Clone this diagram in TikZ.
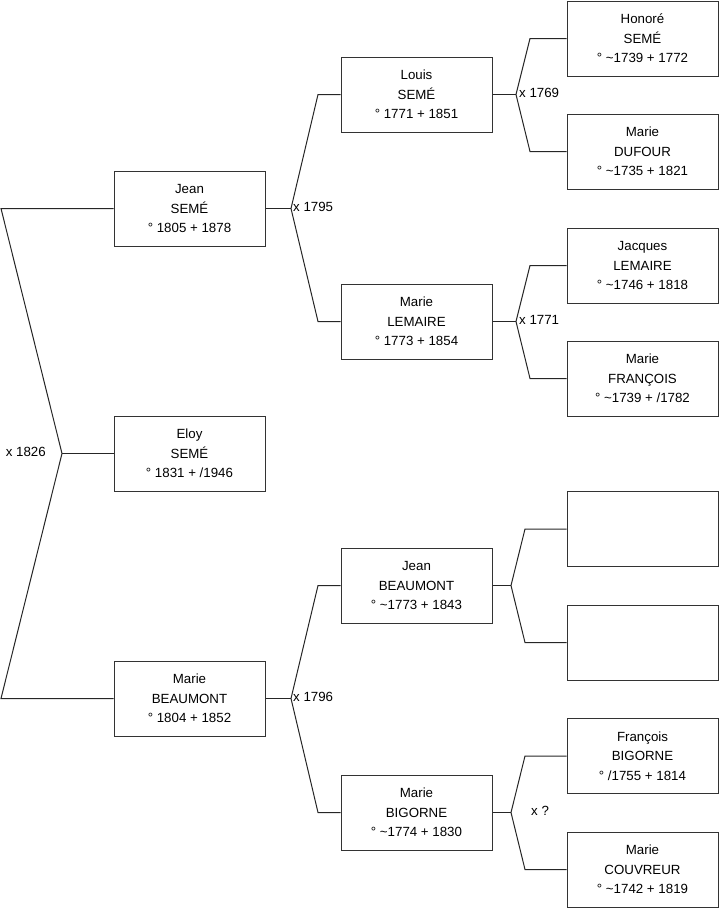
\documentclass[tikz,border=0pt]{standalone}
\usepackage{fontspec}
\setmainfont{Liberation Sans}
\begin{document}
\begin{tikzpicture}[x=1pt,y=-1pt,
  person/.style={draw=black!80, line width=1pt, minimum width=151pt, minimum height=75pt,
    inner sep=0pt, align=center, font=\fontsize{13.3}{19.5}\selectfont},
  link/.style={draw=black!85, line width=1pt},
  mlabel/.style={inner sep=0pt, font=\fontsize{13.3}{16}\selectfont}]
\useasboundingbox (0,0) rectangle (719,908);
% column 1
\node[person] (jean) at (189.5,208.5) {Jean\\SEMÉ\\° 1805 + 1878};
\node[person] (eloy) at (189.5,453.5) {Eloy\\SEMÉ\\° 1831 + /1946};
\node[person] (mbeau) at (189.5,698.5) {Marie\\BEAUMONT\\° 1804 + 1852};
% column 2
\node[person] (louis) at (416.5,94.5) {Louis\\SEMÉ\\° 1771 + 1851};
\node[person] (mlem) at (416.5,321.5) {Marie\\LEMAIRE\\° 1773 + 1854};
\node[person] (jbeau) at (416.5,585.5) {Jean\\BEAUMONT\\° \textasciitilde1773 + 1843};
\node[person] (mbig) at (416.5,812.5) {Marie\\BIGORNE\\° \textasciitilde1774 + 1830};
% column 3
\node[person] (honore) at (642.5,38.5) {Honoré\\SEMÉ\\° \textasciitilde1739 + 1772};
\node[person] (mduf) at (642.5,151.5) {Marie\\DUFOUR\\° \textasciitilde1735 + 1821};
\node[person] (jacq) at (642.5,265.5) {Jacques\\LEMAIRE\\° \textasciitilde1746 + 1818};
\node[person] (mfra) at (642.5,378.5) {Marie\\FRANÇOIS\\° \textasciitilde1739 + /1782};
\node[person] (e1) at (642.5,529) {};
\node[person] (e2) at (642.5,642.5) {};
\node[person] (fbig) at (642.5,756) {François\\BIGORNE\\° /1755 + 1814};
\node[person] (mcou) at (642.5,869.5) {Marie\\COUVREUR\\° \textasciitilde1742 + 1819};
% level 1
\coordinate (t1) at (62,453.5);
\coordinate (t1a) at (1,208.5);
\coordinate (t1b) at (1,698.5);
\draw[link] (jean.west) -- (t1a) -- (t1) -- (t1b) -- (mbeau.west);
\draw[link] (t1) -- (eloy.west);
\node[mlabel, anchor=east] (l1) at (46,452) {x 1826};
% level 2 upper
\coordinate (t2) at (291,208.5);
\coordinate (t2a) at (318,94.5);
\coordinate (t2b) at (318,321.5);
\draw[link] (jean.east) -- (t2);
\draw[link] (louis.west) -- (t2a) -- (t2) -- (t2b) -- (mlem.west);
\node[mlabel, anchor=west] (l2) at (293,207) {x 1795};
% level 2 lower
\coordinate (t3) at (291,698.5);
\coordinate (t3a) at (318,585.5);
\coordinate (t3b) at (318,812.5);
\draw[link] (mbeau.east) -- (t3);
\draw[link] (jbeau.west) -- (t3a) -- (t3) -- (t3b) -- (mbig.west);
\node[mlabel, anchor=west] (l3) at (293,697) {x 1796};
% level 3
\coordinate (t4) at (516,94.5);
\coordinate (t4a) at (530,38.5);
\coordinate (t4b) at (530,151.5);
\draw[link] (louis.east) -- (t4);
\draw[link] (honore.west) -- (t4a) -- (t4) -- (t4b) -- (mduf.west);
\node[mlabel, anchor=west] (l4) at (519,93) {x 1769};
\coordinate (t5) at (516,321.5);
\coordinate (t5a) at (530,265.5);
\coordinate (t5b) at (530,378.5);
\draw[link] (mlem.east) -- (t5);
\draw[link] (jacq.west) -- (t5a) -- (t5) -- (t5b) -- (mfra.west);
\node[mlabel, anchor=west] (l5) at (519,320) {x 1771};
\coordinate (t6) at (511,585.5);
\coordinate (t6a) at (525,529);
\coordinate (t6b) at (525,642.5);
\draw[link] (jbeau.east) -- (t6);
\draw[link] (e1.west) -- (t6a) -- (t6) -- (t6b) -- (e2.west);
\coordinate (t7) at (511,812.5);
\coordinate (t7a) at (525,756);
\coordinate (t7b) at (525,869.5);
\draw[link] (mbig.east) -- (t7);
\draw[link] (fbig.west) -- (t7a) -- (t7) -- (t7b) -- (mcou.west);
\node[mlabel, anchor=west] (l7) at (531,811) {x ?};
\end{tikzpicture}
\end{document}
